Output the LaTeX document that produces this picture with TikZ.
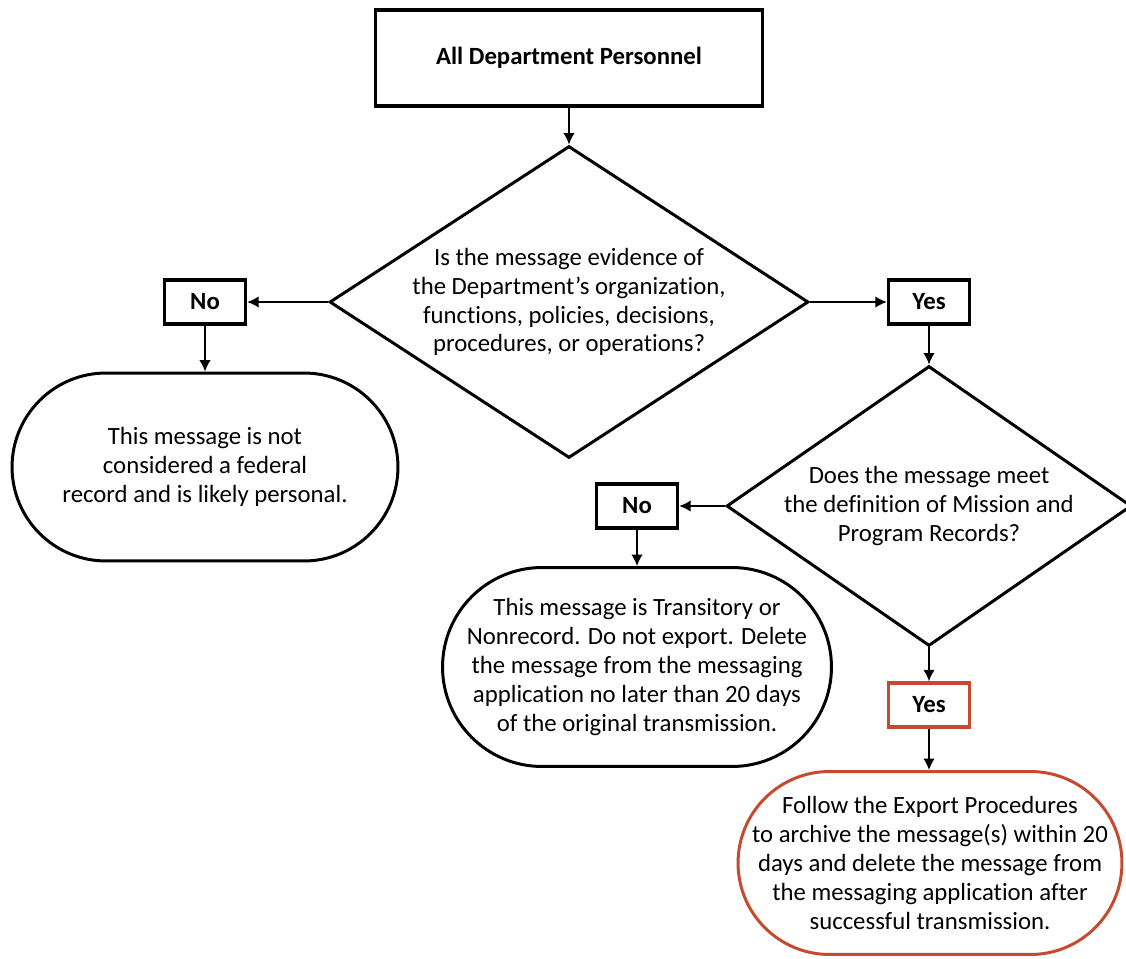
\documentclass[tikz,border=0pt]{standalone}
\usepackage{fontspec}
\setmainfont[Ligatures=NoCommon]{Carlito}
\usetikzlibrary{arrows,arrows.meta,shapes}
\tikzset{>={Latex[length=6.5pt,width=6.5pt]}}
\definecolor{exportred}{RGB}{197,74,48}
\newcommand{\chartfont}{\fontsize{14.1}{16.4}\selectfont}
\tikzstyle{startbox}=[rectangle,draw=black,line width=2pt,minimum width=7.74cm,minimum height=1.92cm,font=\chartfont\bfseries]
\tikzstyle{answer}=[rectangle,draw=black,line width=2pt,minimum width=1.62cm,minimum height=0.88cm,inner sep=0pt,font=\chartfont\bfseries]
\tikzstyle{decision}=[diamond,draw=black,line width=1.7pt,inner sep=0pt]
\tikzstyle{qtext}=[align=center,inner sep=0pt]
\tikzstyle{outcome}=[rectangle,draw=black,line width=1.7pt,align=center,inner sep=0pt]
\tikzstyle{flow}=[->,line width=0.85pt]

\begin{document}
\begin{tikzpicture}[x=0.02cm,y=-0.02cm,font=\chartfont]
	\useasboundingbox (0,0) rectangle (1126,959);
	\node[startbox] (start) at (569,58) {All Department Personnel};
	\node[decision, minimum width=9.58cm, minimum height=6.24cm,
		label={[qtext]center:{Is the message evidence of\\the Department’s organization,\\functions, policies, decisions,\\procedures, or operations?}}] (q1) at (569,302) {};
	\node[answer] (no1) at (205,302) {No};
	\node[answer] (yes1) at (929,302) {Yes};
	\node[outcome, minimum width=7.72cm, minimum height=3.76cm, rounded corners=1.88cm] (personal) at (205,467)
		{This message is not\\considered a federal\\record and is likely personal.};
	\node[decision, minimum width=8.1cm, minimum height=5.6cm,
		label={[qtext]center:{Does the message meet\\the definition of Mission and\\Program Records?}}] (q2) at (929,506) {};
	\node[answer] (no2) at (637,506) {No};
	\node[outcome, minimum width=7.78cm, minimum height=3.98cm, rounded corners=1.99cm] (transitory) at (637,667)
		{This message is Transitory or\\Nonrecord. Do not export. Delete\\the message from the messaging\\application no later than 20 days\\of the original transmission.};
	\node[answer, draw=exportred] (yes2) at (929,705) {Yes};
	\node[outcome, draw=exportred, minimum width=7.68cm, minimum height=3.66cm, rounded corners=1.83cm] (export) at (930,863)
		{Follow the Export Procedures\\to archive the message(s) within 20\\days and delete the message from\\the messaging application after\\successful transmission.};

	\draw[flow] (start) -- (q1);
	\draw[flow] (q1) -- (no1);
	\draw[flow] (q1) -- (yes1);
	\draw[flow] (no1) -- (personal);
	\draw[flow] (yes1) -- (q2);
	\draw[flow] (q2) -- (no2);
	\draw[flow] (no2) -- (transitory);
	\draw[flow] (q2) -- (yes2);
	\draw[flow] (yes2) -- (export.north -| yes2);
\end{tikzpicture}
\end{document}
